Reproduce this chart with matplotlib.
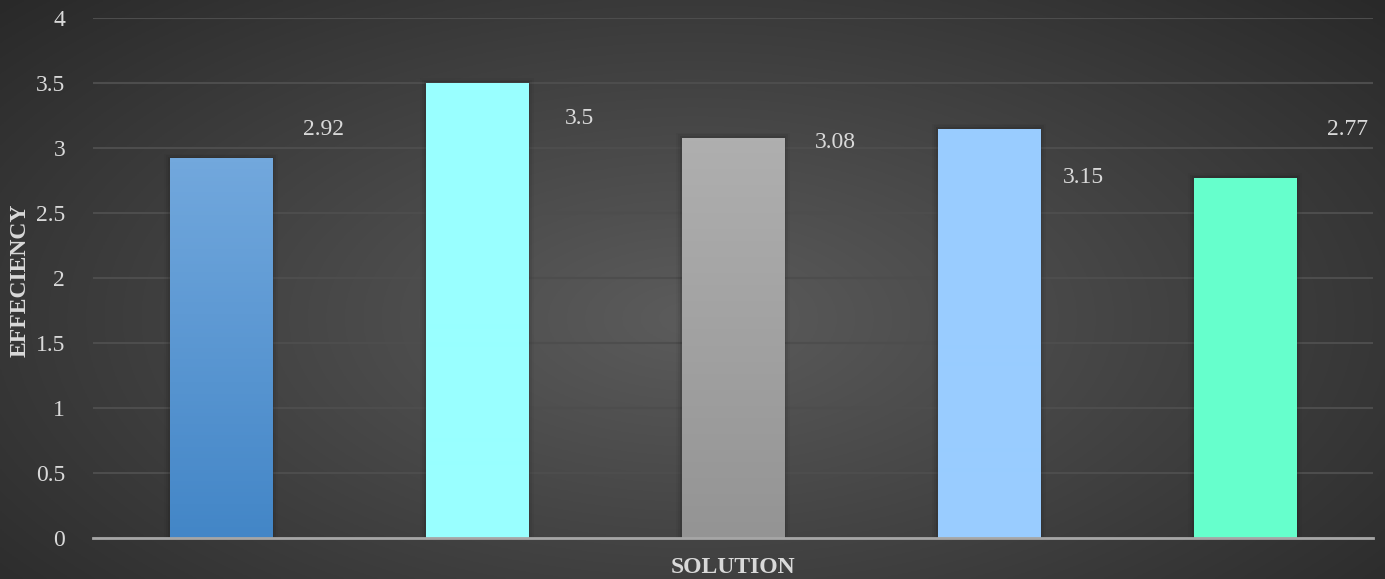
import matplotlib
matplotlib.use("Agg")
import matplotlib.pyplot as plt
import numpy as np

# chart data
solutions = ["S1", "S2", "S3", "S4", "S5"]
effeciency = [2.92, 3.5, 3.08, 3.15, 2.77]
yticks = [0, 0.5, 1, 1.5, 2, 2.5, 3, 3.5, 4]

# bar colours (top, bottom) and label offsets (dx, dy in data units)
bar_colors = [("#72a8dd", "#4386c7"), ("#99ffff", "#99ffff"), ("#afafaf", "#949494"),
              ("#99ccff", "#99ccff"), ("#66ffcc", "#66ffcc")]
label_offsets = [(0.4, 0.22), (0.4, -0.27), (0.4, -0.04), (0.37, -0.38), (0.4, 0.37)]

plt.rcParams["font.family"] = ["Liberation Serif", "DejaVu Serif"]

fig = plt.figure(figsize=(13.85, 5.79), dpi=100)

# dark radial background
bg = fig.add_axes([0, 0, 1, 1], zorder=-10)
yy, xx = np.mgrid[0:1:300j, 0:1:700j]
r = np.sqrt(((xx - 0.5) / 0.75) ** 2 + ((yy - 0.45) / 0.9) ** 2)
shade = np.clip(0.36 - 0.22 * r, 0.16, 0.36)
bg.imshow(np.dstack([shade] * 3), extent=[0, 1, 0, 1], aspect="auto", origin="lower")
bg.axis("off")

ax = fig.add_axes([93 / 1385, 41 / 579, 1280 / 1385, 520 / 579])
ax.patch.set_alpha(0)
x = np.arange(len(solutions))
bars = ax.bar(x, effeciency, width=0.4, color="none", zorder=3)

for b, (top, bot) in zip(bars, bar_colors):
    # soft shadow
    sx, sy = b.get_x(), b.get_y()
    for k, a in enumerate([0.08, 0.05, 0.03]):
        pad = 0.008 * (k + 1)
        ax.add_patch(plt.Rectangle((sx - pad, sy), b.get_width() + 2 * pad, b.get_height() + pad * 1.5,
                                   color="black", alpha=a, lw=0, zorder=2))
    c1 = np.array(matplotlib.colors.to_rgb(top))
    c2 = np.array(matplotlib.colors.to_rgb(bot))
    t = np.linspace(0, 1, 100)[:, None]
    grad = (c2 * (1 - t) + c1 * t)[:, None, :]
    im = ax.imshow(grad, extent=[sx, sx + b.get_width(), 0, b.get_height()],
                   origin="lower", aspect="auto", zorder=3)
    im.set_clip_path(b)

for xi, v, (dx, dy) in zip(x, effeciency, label_offsets):
    ax.text(xi + dx, v + dy, f"{v:g}", ha="center", va="center", fontsize=17, color="#d9d9d9")

ax.set_xlim(-0.5, 4.5)
ax.set_ylim(0, 4)
ax.set_yticks(yticks)
ax.set_yticklabels([f"{v:g}" for v in yticks])
ax.set_xticks([])
ax.grid(axis="y", color="#4d4d4d", lw=1.5, zorder=0)
ax.tick_params(axis="y", length=0, pad=20, labelsize=17, labelcolor="#d9d9d9")
for s in ["top", "right", "left"]:
    ax.spines[s].set_visible(False)
ax.spines["bottom"].set_color("#a6a6a6")
ax.spines["bottom"].set_linewidth(2)
ax.spines["bottom"].set_zorder(4)

ax.set_xlabel("SOLUTION", fontsize=17, fontweight="bold", color="#d9d9d9", labelpad=14)
fig.text(20 / 1385, 1 - 280 / 579, "EFFECIENCY", rotation=90, ha="center", va="center",
         fontsize=17, fontweight="bold", color="#d9d9d9")

fig.savefig("out.png", dpi=100)
